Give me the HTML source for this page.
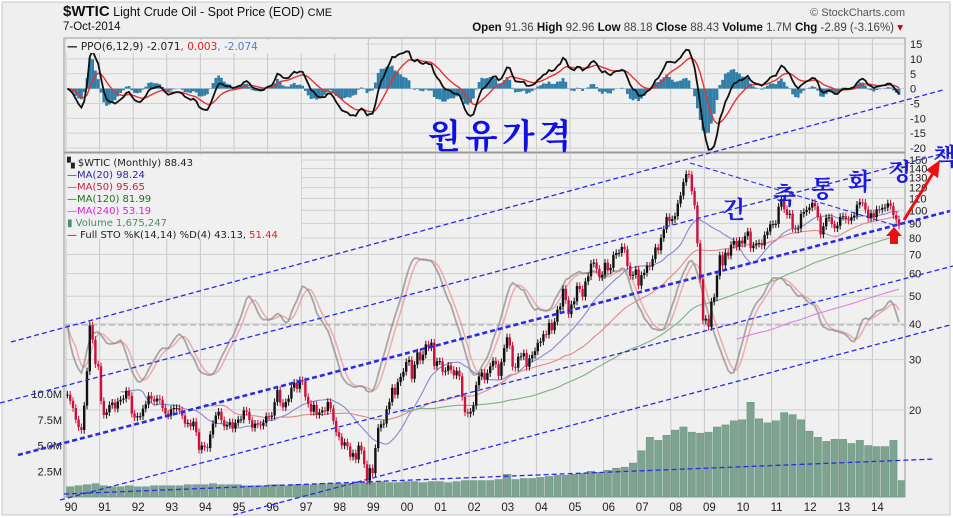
<!DOCTYPE html>
<html><head><meta charset="utf-8">
<style>
html,body{margin:0;padding:0;background:#fff;}
svg{display:block;font-family:"Liberation Sans","DejaVu Sans",sans-serif;}
</style></head>
<body>
<svg id="chart" width="953" height="518" viewBox="0 0 953 518" xmlns="http://www.w3.org/2000/svg">
<rect x="0" y="0" width="953" height="518" fill="#ffffff"/>
<rect x="2" y="2" width="948" height="513" fill="#efefef" stroke="#c8c8c8"/>
<g>
<text x="63" y="16" font-size="12.5" fill="#111"><tspan font-weight="bold" font-size="15">$WTIC</tspan> Light Crude Oil - Spot Price (EOD) <tspan font-size="11">CME</tspan></text>
<text x="63" y="30" font-size="11.5" fill="#111">7-Oct-2014</text>
<text x="905" y="16" font-size="11" fill="#555" text-anchor="end">© StockCharts.com</text>
<text x="903" y="31" font-size="11.5" fill="#111" text-anchor="end"><tspan font-weight="bold">Open</tspan> <tspan fill="#444">91.36</tspan> <tspan font-weight="bold">High</tspan> <tspan fill="#444">92.96</tspan> <tspan font-weight="bold">Low</tspan> <tspan fill="#444">88.18</tspan> <tspan font-weight="bold">Close</tspan> <tspan fill="#444">88.43</tspan> <tspan font-weight="bold">Volume</tspan> <tspan fill="#444">1.7M</tspan> <tspan font-weight="bold">Chg</tspan> <tspan fill="#444">-2.89 (-3.16%)</tspan> <tspan fill="#c00">▾</tspan></text>
</g>
<rect x="64" y="38" width="841" height="114" fill="#f0f0f0" stroke="#999"/>
<rect x="64" y="153" width="841" height="344" fill="#f0f0f0" stroke="#999"/>
<defs>
<clipPath id="ppoClip"><rect x="64" y="38" width="841" height="114"/></clipPath>
<clipPath id="mainClip"><rect x="64" y="153" width="841" height="344"/></clipPath>
</defs>
<g id="grid"></g>
<g id="ppo" clip-path="url(#ppoClip)"></g>
<g id="main" clip-path="url(#mainClip)"></g>
<g id="axes"></g>
<g id="annot"></g>
<g font-family="'DejaVu Sans',sans-serif" font-size="10.5">
<rect x="66" y="40" width="300" height="13" fill="#f0f0f0"/>
<text x="67" y="50" fill="#222"><tspan font-weight="bold">—</tspan> PPO(6,12,9) -2.071<tspan fill="#e02020">, 0.003</tspan><tspan fill="#4a7fd0">, -2.074</tspan></text>
</g>
<g font-family="'DejaVu Sans',sans-serif" font-size="10">
<rect x="66" y="155" width="235" height="84" fill="#f0f0f0"/>
<text x="67" y="166" fill="#222">▚ $WTIC (Monthly) 88.43</text>
<text x="67" y="178" fill="#2a2aa0">—MA(20) 98.24</text>
<text x="67" y="190" fill="#d02040">—MA(50) 95.65</text>
<text x="67" y="202" fill="#207020">—MA(120) 81.99</text>
<text x="67" y="214" fill="#e020e0">—MA(240) 53.19</text>
<text x="67" y="226" fill="#4a8a70">▮ Volume 1,675,247</text>
<text x="67" y="238" fill="#222">— Full STO %K(14,14) %D(4) 43.13, <tspan fill="#e02020">51.44</tspan></text>
</g>
</svg>
<script>
// ---- data ----
const startYear = 1990;
const yearLabels = ['90','91','92','93','94','95','96','97','98','99','00','01','02','03','04','05','06','07','08','09','10','11','12','13','14'];
const closes1990s = [
22.6,21.5,20.3,18.5,17.4,17.0,20.7,27.3,39.5,35.2,28.9,28.4,
21.5,19.2,19.6,20.8,21.2,20.2,21.4,21.7,21.9,23.3,22.4,19.4,
18.8,19.0,19.0,20.2,20.9,22.4,21.8,21.4,21.9,21.7,20.3,19.4,
19.1,20.1,20.3,20.3,19.9,19.1,17.9,18.0,17.5,18.2,16.7,14.5,
15.0,14.8,14.7,16.4,17.9,19.1,19.7,18.4,17.5,17.7,18.1,17.2,
18.0,18.5,18.5,19.9,19.7,18.4,17.3,17.9,17.8,17.6,18.0,19.0,
18.9,19.1,21.3,23.5,21.2,20.4,21.3,21.9,23.9,24.9,23.7,25.4,
25.2,22.2,21.0,19.7,20.8,19.2,19.6,19.9,19.8,21.3,20.2,18.3,
16.7,16.1,15.0,15.4,14.9,13.7,14.1,13.4,15.0,14.4,12.9,11.3,
12.5,12.0,14.7,17.3,17.8,17.9,20.1,21.3,23.9,22.6,25.0,26.1];
const closes2000s = [
27.2,29.4,29.9,25.7,28.8,31.8,29.8,31.2,33.9,33.1,34.4,28.5,
29.6,29.6,27.2,27.4,28.6,27.6,26.4,27.4,26.2,22.2,19.6,19.4,
19.7,20.7,24.4,26.2,27.0,25.5,26.9,28.4,29.7,28.9,26.3,29.4,
32.9,35.9,33.6,28.3,28.1,30.7,30.8,31.6,28.3,30.3,31.1,32.1,
34.3,34.7,36.8,36.7,40.3,38.0,40.7,44.9,46.0,53.1,48.5,43.3,
46.8,48.0,54.3,53.0,49.8,56.3,58.7,65.0,65.6,62.4,58.3,59.4,
65.5,61.6,62.9,69.7,70.9,70.9,74.4,73.0,63.8,58.9,59.4,62.0,
54.5,59.3,60.4,64.0,63.5,67.5,74.1,72.4,79.9,85.8,94.8,91.7,
93.0,95.4,105.5,112.6,125.4,133.9,133.4,116.7,104.1,76.6,57.3,41.1,
41.7,39.1,47.9,49.6,59.0,69.6,64.1,71.1,69.4,75.7,78.0,74.5];
const closes2010s = [
78.3,76.4,81.2,84.3,73.7,75.3,76.4,76.8,75.3,81.9,84.3,89.2,
89.5,89.6,102.9,109.5,100.9,96.3,97.3,86.3,85.6,86.4,97.2,98.6,
100.3,102.2,106.2,103.3,94.7,82.3,87.9,94.1,94.5,89.5,86.5,88.3,
94.8,95.3,92.9,92.0,94.5,95.8,104.6,106.6,106.3,100.5,93.9,97.6,
94.6,100.8,100.5,102.0,102.2,105.8,103.6,96.1,93.0,88.4];
const volumeQuarterly = [
1.0,1.1,1.2,1.3, 1.1,1.0,1.0,1.1, 1.0,1.0,1.1,1.1, 1.1,1.1,1.2,1.2,
1.2,1.3,1.2,1.2, 1.2,1.1,1.1,1.1, 1.2,1.2,1.1,1.2, 1.2,1.2,1.3,1.3,
1.3,1.3,1.4,1.4, 1.4,1.5,1.4,1.4, 1.5,1.5,1.4,1.5, 1.5,1.4,1.5,1.6,
1.6,1.6,1.6,1.7, 2.2,1.7,1.8,1.8, 1.9,2.0,2.1,2.1, 2.2,2.3,2.5,2.4,
2.6,2.8,2.9,3.3, 4.5,5.8,5.5,6.0, 6.5,6.8,6.3,6.2, 6.3,6.8,7.0,7.4,
7.5,9.2,7.6,7.2, 7.4,8.2,8.0,7.5, 6.4,5.8,5.4,5.6, 5.6,5.2,5.5,5.0,
4.9,4.9,5.5,1.6];
const priceTicks = [150,140,130,120,110,100,90,80,70,60,50,40,30,20];
const ppoTicks = [15,10,5,0,-5,-10,-15,-20];
const volTicks = [2.5,5.0,7.5,10.0];

const closes = closes1990s.concat(closes2000s, closes2010s);
const NS='http://www.w3.org/2000/svg';
function mk(tag, attrs, parent){const e=document.createElementNS(NS,tag);for(const k in attrs)e.setAttribute(k,attrs[k]);parent.appendChild(e);return e;}
// ---- scales ----
const xT = t => 66 + 33.6*(t-startYear);
const xM = i => xT(startYear + i/12 + 1/24);
const yP = p => 160 + 124*Math.log(150/p);
const yPPO = v => 88.6 - 2.97*v;
const yVol = v => 497 - 10.3*v;
const ySto = v => 405 - 1.6*v;

const grid=document.getElementById('grid'), ppoG=document.getElementById('ppo'), mainG=document.getElementById('main'), axes=document.getElementById('axes'), annot=document.getElementById('annot');

// grid
yearLabels.forEach((lab,k)=>{
  const x=xT(startYear+k);
  let l=mk('line',{x1:x,x2:x,y1:38,y2:152,stroke:'#c8c8c8'},grid);
  
  
  l=mk('line',{x1:x,x2:x,y1:153,y2:497,stroke:'#c8c8c8'},grid);
  
  
  const t=mk('text',{x:x+5,y:511,'font-size':11.5,'text-anchor':'middle',fill:'#222'},axes);
  t.textContent=lab;
  
  
});
ppoTicks.forEach(v=>{
  const y=yPPO(v);
  const l=mk('line',{x1:64,x2:905,y1:y,y2:y,stroke:'#d0d0d0'},grid);
  
  
  const t=mk('text',{x:910,y:y+4,'font-size':11,fill:'#222'},axes);
  t.textContent=v;
  
  
});
priceTicks.forEach(v=>{
  const y=yP(v);
  const l=mk('line',{x1:64,x2:905,y1:y,y2:y,stroke:'#d0d0d0'},grid);
  
  
  const t=mk('text',{x:909,y:y+4,'font-size':11,fill:'#222'},axes);
  t.textContent=v;
  
  
});
volTicks.forEach(v=>{
  const t=mk('text',{x:62,y:yVol(v)+4,'font-size':11,fill:'#222','text-anchor':'end'},axes);
  t.textContent=v.toFixed(1)+'M';
  
  
});
const midl=mk('line',{x1:64,x2:905,y1:ySto(50),y2:ySto(50),stroke:'#aaa','stroke-dasharray':'6,3'},grid);



// volume
volumeQuarterly.forEach((v,q)=>{
  const x0=xT(startYear+q/4)+0.5, w=33.6/4-1;
  const r=mk('rect',{x:x0,y:yVol(v),width:w,height:497-yVol(v),fill:'#7fa391',stroke:'#5f8a76','stroke-width':0.4},mainG);
  
  
});

// indicators
function sma(n){return closes.map((c,i)=> i<n-1?null: closes.slice(i-n+1,i+1).reduce((a,b)=>a+b,0)/n);}
function ema(arr,n){const k=2/(n+1);let out=[],prev=arr[0];arr.forEach((v,i)=>{prev=i===0?v:v*k+prev*(1-k);out.push(prev);});return out;}
function pathFrom(vals,yf){let d='';vals.forEach((v,i)=>{if(v==null)return;d+=(d?'L':'M')+xM(i).toFixed(1)+','+yf(v).toFixed(1);});return d;}

// stochastic full %K(14,14) %D(4)
const highs=closes.map((c,i)=>Math.max(c,i?closes[i-1]:c)*1.03);
const lows=closes.map((c,i)=>Math.min(c,i?closes[i-1]:c)*0.97);
const fastK=closes.map((c,i)=>{const s=Math.max(0,i-13);const hh=Math.max(...highs.slice(s,i+1)),ll=Math.min(...lows.slice(s,i+1));return 100*(c-ll)/(hh-ll||1);});
function smoothArr(a,n){return a.map((v,i)=>{const s=Math.max(0,i-n+1);const sl=a.slice(s,i+1);return sl.reduce((x,y)=>x+y,0)/sl.length;});}
const fullK=smoothArr(fastK,14), fullD=smoothArr(fullK,4);
let p=mk('path',{d:pathFrom(fullD,ySto),fill:'none',stroke:'#e89090','stroke-width':1.5,opacity:0.7},mainG);


p=mk('path',{d:pathFrom(fullK,ySto),fill:'none',stroke:'#888','stroke-width':1.8,opacity:0.7},mainG);



[[20,'#8888cc','ma20-line'],[50,'#e08888','ma50-line'],[120,'#80b080','ma120-line'],[240,'#e080e0','ma240-line']].forEach(([n,c,nm])=>{
  const el=mk('path',{d:pathFrom(sma(n),yP),fill:'none',stroke:c,'stroke-width':1.1},mainG);
  
  
});

// candles
closes.forEach((c,i)=>{
  const o=i?closes[i-1]:c, x=xM(i);
  const col=c>=o?'#111':'#d0103a';
  const w=mk('line',{x1:x,x2:x,y1:yP(highs[i]),y2:yP(lows[i]),stroke:col,'stroke-width':1},mainG);
  
  
  const top=yP(Math.max(o,c)), bot=yP(Math.min(o,c));
  const b=mk('rect',{x:x-1.2,y:top,width:2.4,height:Math.max(1,bot-top),fill:col},mainG);
  
  
});

// PPO
const e6=ema(closes,6), e12=ema(closes,12);
const ppo=closes.map((c,i)=>100*(e6[i]-e12[i])/e12[i]);
const sig=ema(ppo,9);
ppo.forEach((v,i)=>{
  const h=v-sig[i];
  const y0=yPPO(0), y1=yPPO(h);
  const r=mk('rect',{x:xM(i)-1.4,y:Math.min(y0,y1),width:2.8,height:Math.abs(y1-y0),fill:'#2f7fa8'},ppoG);
  
  
});
p=mk('path',{d:pathFrom(sig,yPPO),fill:'none',stroke:'#e83030','stroke-width':1.4},ppoG);


p=mk('path',{d:pathFrom(ppo,yPPO),fill:'none',stroke:'#111','stroke-width':1.8},ppoG);



// annotations: trend channel lines (drawn overlay)
const trendLines=[[11,342,943,90,1.3],[0,403,945,153,1.3],[18,455,950,211,2.6],[60,500,953,266,1.3],[233,515,950,325,1.3],[64,494,935,459,1.3],[690,163,897,226,1.1]];
trendLines.forEach(([a,b,c,d,w])=>{
  const l=mk('line',{x1:a,y1:b,x2:c,y2:d,stroke:'#2a2ae8','stroke-width':w,'stroke-dasharray':'5,3'},annot);
  
  
});
let t=mk('text',{x:428,y:148,'font-size':34,'font-weight':'bold',fill:'#1010e0','font-family':"'Noto Serif CJK SC','Noto Sans CJK KR',serif",'letter-spacing':4},annot);
t.textContent='원유가격';


[['긴',722,218],['축',773,204],['통',811,197],['화',848,190],['정',888,180],['책',933,165]].forEach(([ch,x,y])=>{
  const e=mk('text',{x:x,y:y,'font-size':24,'font-weight':'bold',fill:'#1a1ae0','font-family':"'Noto Serif CJK SC','Noto Sans CJK KR',serif"},annot);
  e.textContent=ch;
  
  
});
let ar=mk('line',{x1:904,y1:220,x2:935,y2:170,stroke:'#e81010','stroke-width':3},annot);


ar=mk('polygon',{points:'940,160 926,170 938,178',fill:'#e81010'},annot);


ar=mk('polygon',{points:'894,227 886,236 890,236 890,244 898,244 898,236 902,236',fill:'#e81010'},annot);


</script>
</body></html>
